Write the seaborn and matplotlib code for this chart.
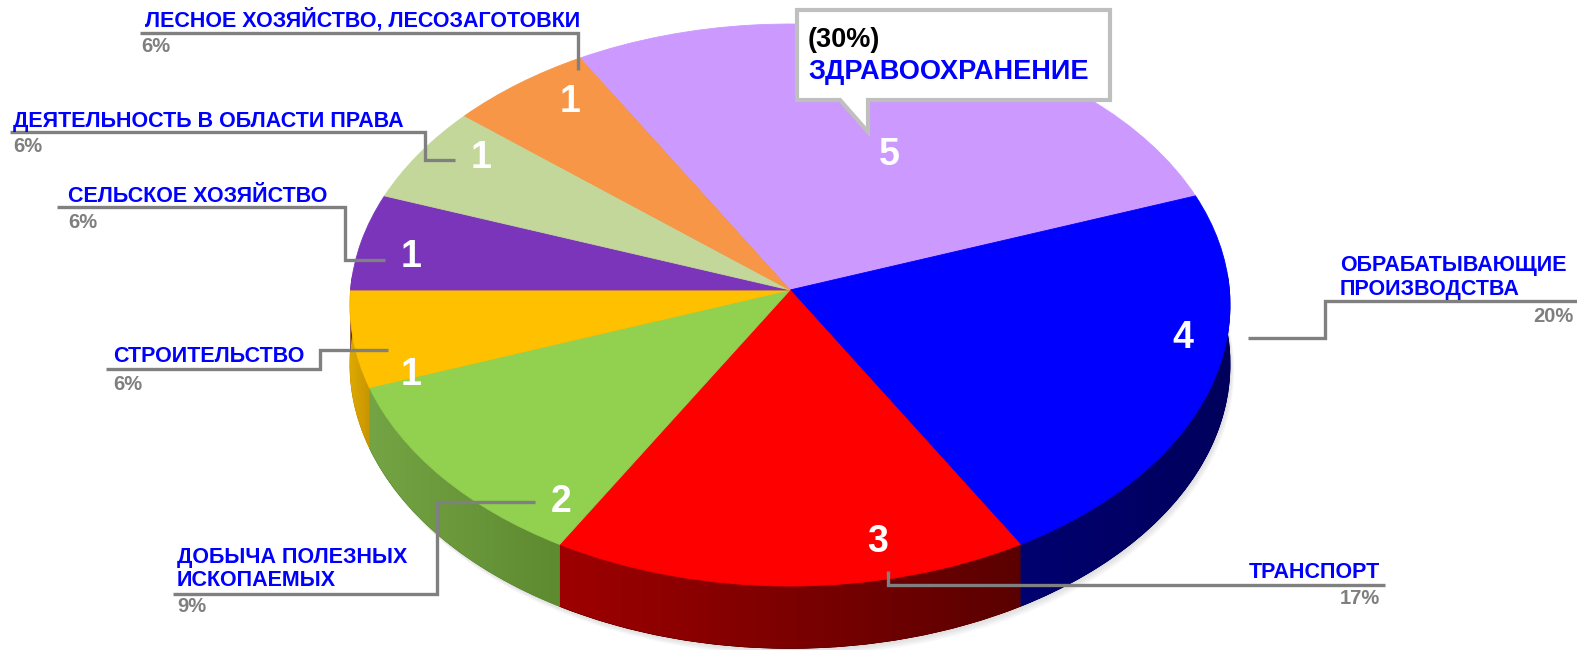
import numpy as np
import matplotlib
matplotlib.use("Agg")
import matplotlib.pyplot as plt
import seaborn as sns
from matplotlib.patches import Polygon
from matplotlib.transforms import Transform
from matplotlib.colors import LinearSegmentedColormap

# ---------------- data ----------------
categories = ["ЗДРАВООХРАНЕНИЕ", "ОБРАБАТЫВАЮЩИЕ\nПРОИЗВОДСТВА", "ТРАНСПОРТ",
              "ДОБЫЧА ПОЛЕЗНЫХ\nИСКОПАЕМЫХ", "СТРОИТЕЛЬСТВО", "СЕЛЬСКОЕ ХОЗЯЙСТВО",
              "ДЕЯТЕЛЬНОСТЬ В ОБЛАСТИ ПРАВА", "ЛЕСНОЕ ХОЗЯЙСТВО, ЛЕСОЗАГОТОВКИ"]
counts = [5, 4, 3, 2, 1, 1, 1, 1]
percent_labels = ["30%", "20%", "17%", "9%", "6%", "6%", "6%", "6%"]
top_colors = ["#CC99FF", "#0000FF", "#FF0000", "#92D050", "#FFC000", "#7B35BB", "#C4D79B", "#F79646"]
side_left = ["#9A6FC8", "#000070", "#9E0000", "#74A444", "#DDAA00", "#552080", "#98A870", "#C06A20"]
side_right = ["#8A60B8", "#00005C", "#5A0000", "#5E8A30", "#C89400", "#552080", "#98A870", "#C06A20"]

# ---------------- style ----------------
sns.set_theme(style="white")
FONT = ["Liberation Sans", "DejaVu Sans"]
plt.rcParams["font.family"] = FONT

W, H = 1577, 650
fig = plt.figure(figsize=(W / 100, H / 100), dpi=100)
ax = fig.add_axes([0, 0, 1, 1])

# perspective projection of the unit pie onto the canvas (pixel coords)
CX, CY, A, B, HP = 790.0, 290.0, 439.4, 280.2, 0.0534
DEPTH = 59.0


class Persp(Transform):
    input_dims = output_dims = 2
    is_separable = False
    has_inverse = False

    def __init__(self, drop=0.0, dx=0.0):
        super().__init__()
        self.drop = drop
        self.dx = dx

    def transform_non_affine(self, pts):
        pts = np.asarray(pts, dtype=float)
        u, v = pts[:, 0], pts[:, 1]
        w = 1.0 + HP * v
        x = CX + self.dx + A * u / w
        y = CY - B * v / w + self.drop / w
        return np.column_stack([x, y])


def draw_pie(colors, drop=0.0, dx=0.0, z=1, alpha=1.0, same_edge=True):
    wedges, _ = ax.pie(counts, colors=colors, startangle=120, counterclock=False,
                       radius=1.0, center=(0, 0),
                       wedgeprops=dict(linewidth=0.6 if same_edge else 0, alpha=alpha))
    tr = Persp(drop, dx) + ax.transData
    for wdg in wedges:
        wdg.set_transform(tr)
        wdg.set_zorder(z)
        if same_edge:
            wdg.set_edgecolor(wdg.get_facecolor())
    return wedges


# soft shadow under the pie
for k in range(2, 8):
    draw_pie(["#9A9A9A"] * len(counts), drop=DEPTH + k, dx=k * 0.6, z=0.5,
             alpha=0.05, same_edge=False)

# bottom disc (base of the side walls)
draw_pie(side_right, drop=DEPTH, z=1)

# top face
top_wedges = draw_pie(top_colors, drop=0.0, z=3)

# side walls with horizontal gradient, built from the wedge angles
P0, PD = Persp(0.0), Persp(DEPTH)
for wdg, cl, cr in zip(top_wedges, side_left, side_right):
    lo, hi = max(wdg.theta1, -183.0), min(wdg.theta2, 3.0)
    if lo >= hi:
        continue
    t = np.radians(np.linspace(lo, hi, 80))
    uv = np.column_stack([np.cos(t), np.sin(t)])
    top_arc = P0.transform(uv)
    bot_arc = PD.transform(uv)[::-1]
    poly_pts = np.vstack([top_arc, bot_arc])
    clip = Polygon(poly_pts, closed=True, facecolor=cr, edgecolor=cr, lw=0.5, zorder=2)
    ax.add_patch(clip)
    x0, x1 = poly_pts[:, 0].min(), poly_pts[:, 0].max()
    y0, y1 = poly_pts[:, 1].min(), poly_pts[:, 1].max()
    cmap = LinearSegmentedColormap.from_list("side", [cl, cr])
    im = ax.imshow(np.linspace(0, 1, 256)[None, :], cmap=cmap, aspect="auto",
                   extent=(x0, x1, y1, y0), zorder=2.1, interpolation="bilinear")
    im.set_clip_path(clip)

ax.set_aspect("auto")
ax.set_xlim(0, W)
ax.set_ylim(H, 0)
ax.axis("off")

# ---------------- value labels (counts) ----------------
num_pos = [(889, 155), (1183, 338), (878, 542), (561, 502),
           (411, 375), (411, 257), (481, 158), (570, 102)]
for (x, y), v in zip(num_pos, counts):
    ax.text(x, y, str(v), color="white", fontsize=27, fontweight="bold",
            ha="center", va="center", family=FONT, zorder=6)

# ---------------- leader lines + category labels ----------------
LINE = dict(color="#808080", lw=2.4, solid_capstyle="butt", solid_joinstyle="miter", zorder=5)
BLUE = "#0000FF"
GREY = "#7F7F7F"
FS = 15.5


def leader(pts):
    xs, ys = zip(*pts)
    ax.plot(xs, ys, **LINE)


def cat(x, y, s, ha="left", step=24):
    for i, line in enumerate(s.split("\n")):
        ax.text(x, y + i * step, line, color=BLUE, fontsize=FS, fontweight="bold",
                ha=ha, va="center", family=FONT, zorder=6)


def pct(x, y, s, ha="left"):
    ax.text(x, y, s, color=GREY, fontsize=14.5, fontweight="bold",
            ha=ha, va="center", family=FONT, zorder=6)


# Forestry
leader([(140, 33), (578, 33), (578, 70)])
cat(145, 20, categories[7]); pct(141, 46, percent_labels[7])
# Law
leader([(10, 132), (425, 132), (425, 160), (455, 160)])
cat(13, 121, categories[6]); pct(13, 146, percent_labels[6])
# Agriculture
leader([(57, 207), (345, 207), (345, 260), (385, 260)])
cat(68, 196, categories[5]); pct(68, 222, percent_labels[5])
# Construction
leader([(106, 369), (320, 369), (320, 350), (388, 350)])
cat(113, 357, categories[4]); pct(113, 384, percent_labels[4])
# Mining
leader([(173, 594), (437, 594), (437, 502), (535, 502)])
cat(177, 557, categories[3]); pct(177, 607, percent_labels[3])
# Transport
leader([(888, 571), (888, 585), (1385, 585)])
cat(1380, 572, categories[2], ha="right"); pct(1380, 598, percent_labels[2], ha="right")
# Manufacturing
leader([(1248, 338), (1325, 338), (1325, 301), (1577, 301)])
cat(1340, 266, categories[1], step=23); pct(1573, 316, percent_labels[1], ha="right")

# ---------------- callout for healthcare ----------------
box = [(797, 10), (1110, 10), (1110, 100), (868, 100), (868, 132), (840, 100), (797, 100)]
ax.add_patch(Polygon(box, closed=True, facecolor="white", edgecolor="#BFBFBF",
                     lw=3, joinstyle="miter", zorder=7))
ax.text(808, 40, "(" + percent_labels[0] + ")", color="black", fontsize=19.5,
        fontweight="bold", ha="left", va="center", family=FONT, zorder=8)
ax.text(808, 72, categories[0], color=BLUE, fontsize=19.5,
        fontweight="bold", ha="left", va="center", family=FONT, zorder=8)

fig.savefig("out.png", dpi=100, facecolor="white")
